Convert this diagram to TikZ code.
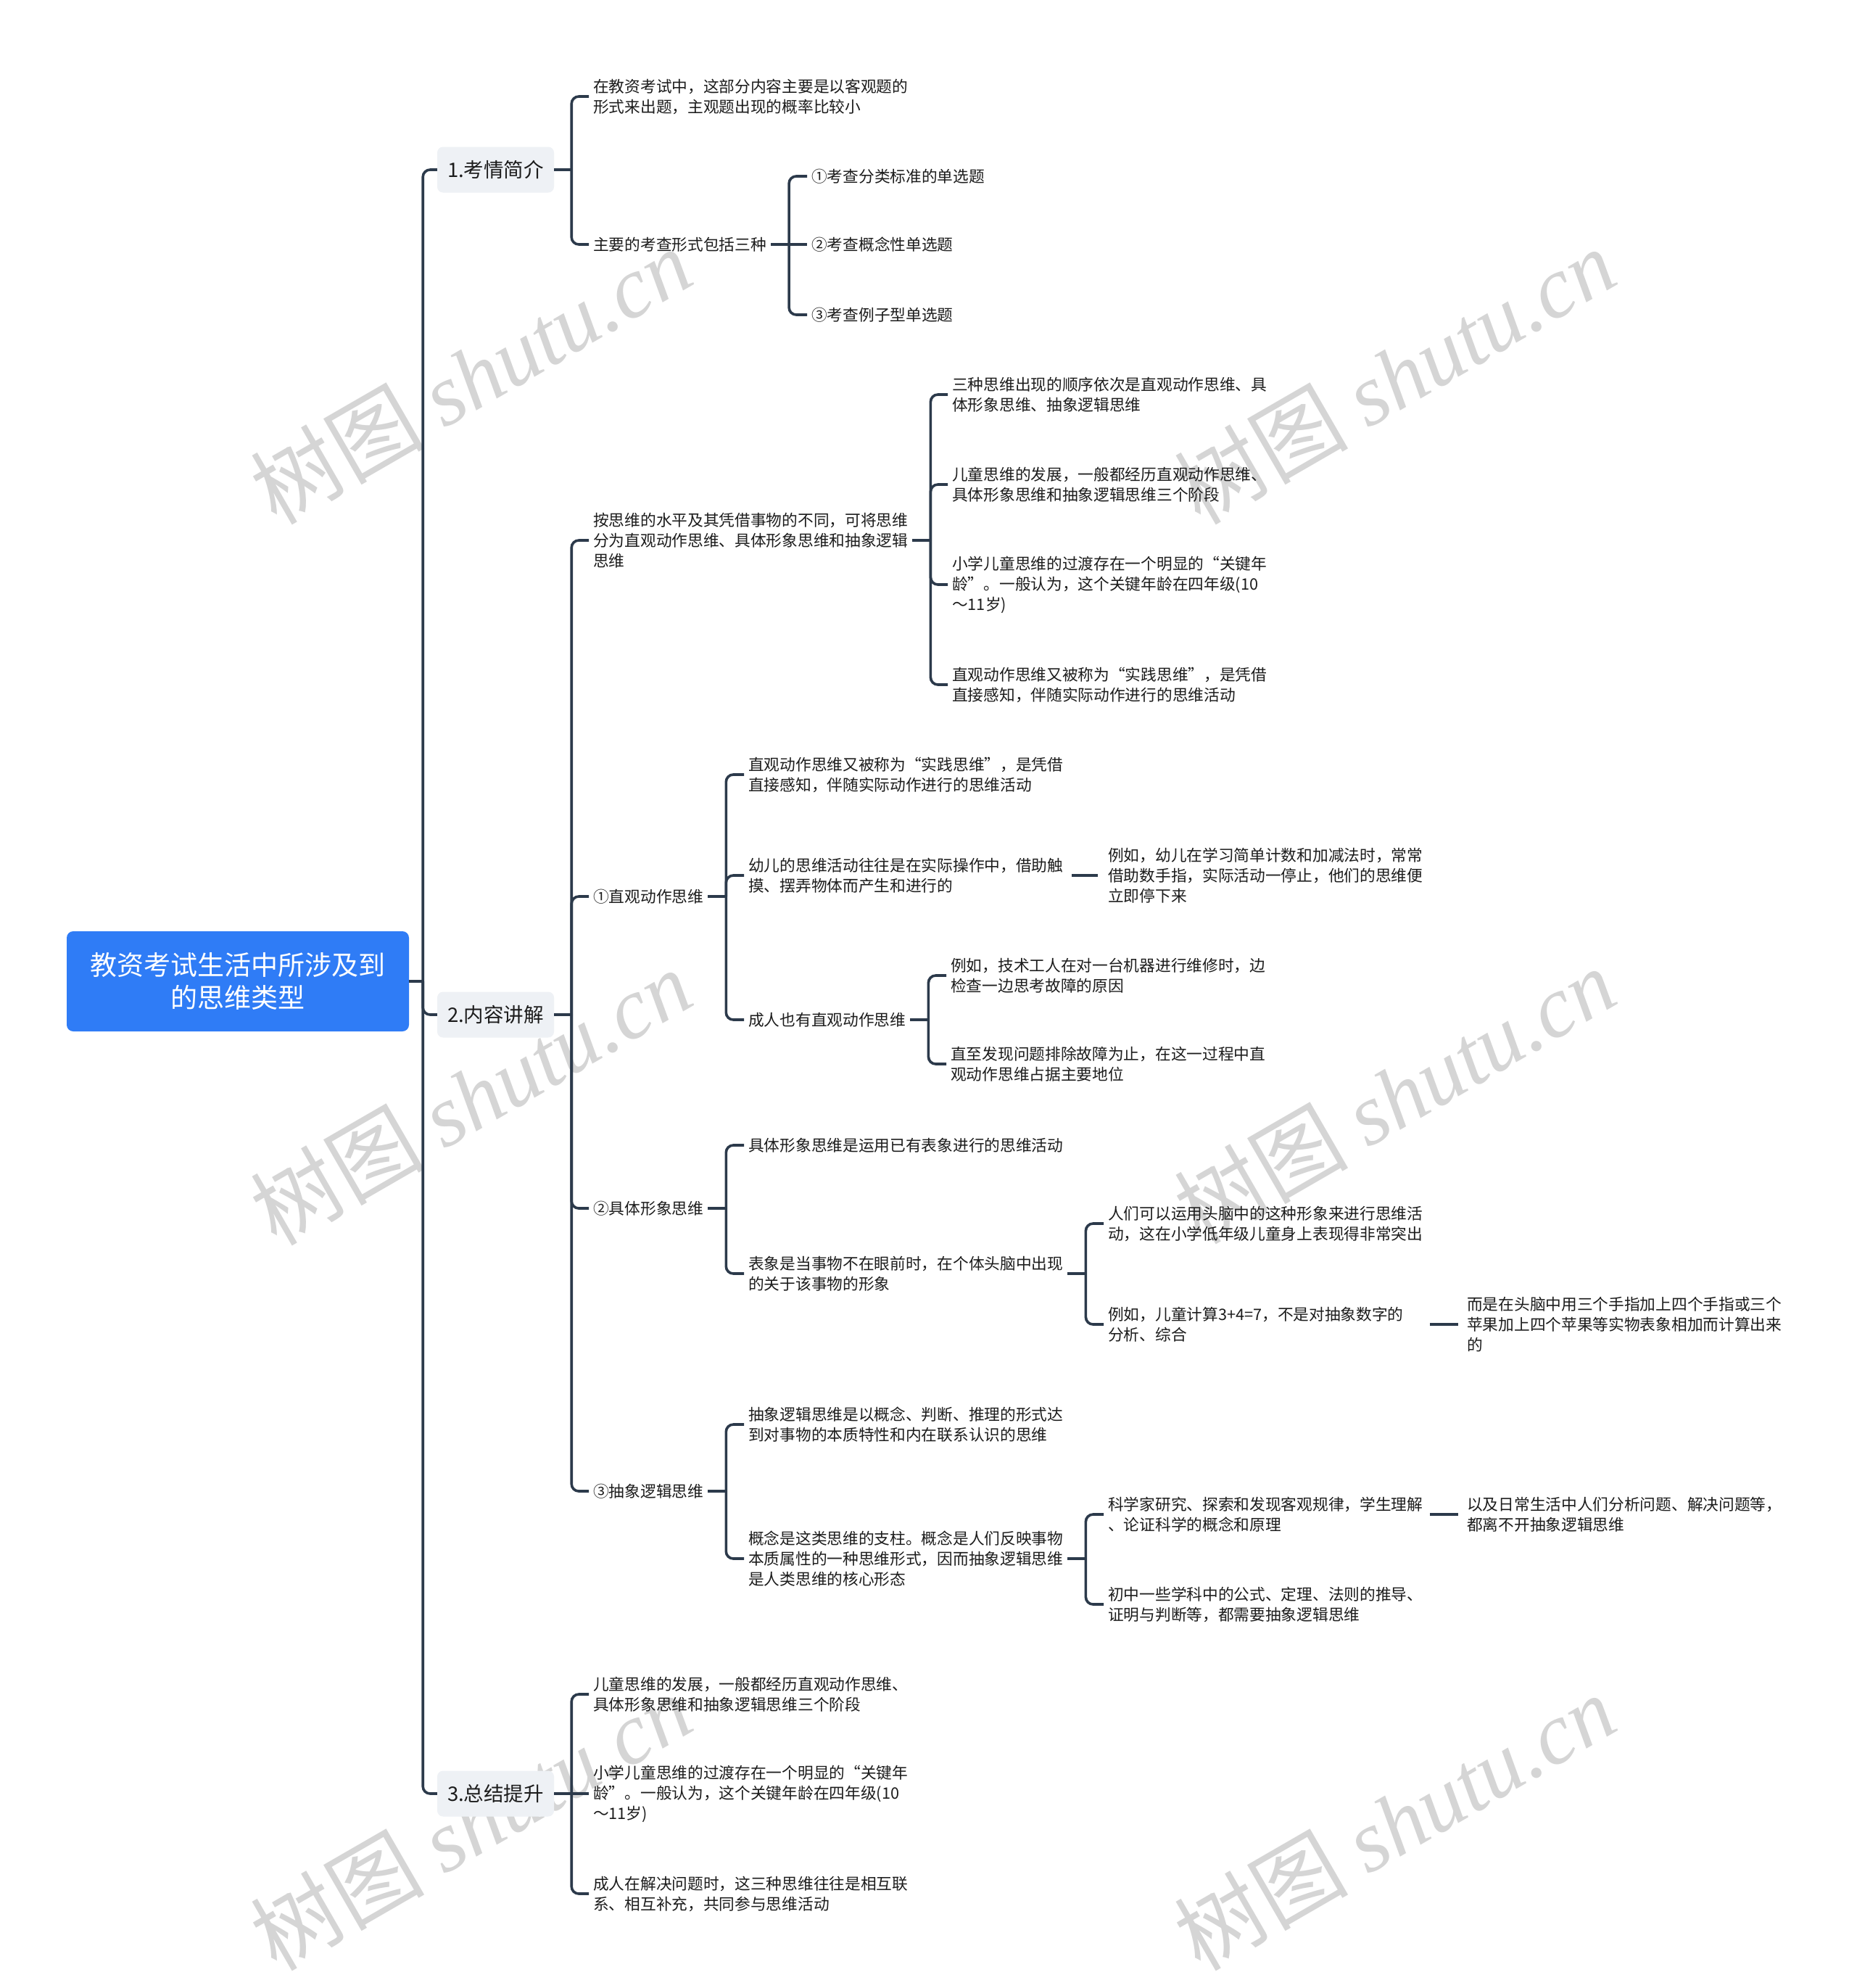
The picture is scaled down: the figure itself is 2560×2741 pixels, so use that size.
\documentclass[tikz,border=0pt]{standalone}
\usepackage{fontspec}
\setmainfont{Noto Sans CJK SC}
\newfontfamily\wmlat{Liberation Serif}
\usetikzlibrary{calc}
\definecolor{lineC}{HTML}{2C3A4B}
\definecolor{rootC}{HTML}{2F7CF6}
\definecolor{subC}{HTML}{EEF1F5}
\definecolor{txtC}{HTML}{1C1C1C}
\definecolor{wmC}{HTML}{D5D5D5}
\newcommand{\mmstub}[2]{\coordinate (#2) at ($(#1.east)+(25,0)$); \draw[conn] (#1.east) -- (#2);}
\newcommand{\mmdown}[2]{\draw[conn] (#1) |- (#2.west);}
\begin{document}
\begin{tikzpicture}[x=1pt,y=-1pt,
  conn/.style={draw=lineC, line width=3.6pt, rounded corners=10pt},
  rootnode/.style={fill=rootC, rounded corners=9pt, text=white, font=\fontsize{37}{45}\selectfont, align=center, minimum width=472pt, minimum height=138pt, inner sep=0pt},
  topic/.style={fill=subC, rounded corners=8pt, text=txtC, font=\fontsize{27.5}{33}\selectfont, minimum width=161pt, minimum height=63pt, inner sep=0pt},
  leaf/.style={anchor=west, text=txtC, font=\fontsize{21.7}{28}\selectfont, align=left, inner xsep=6pt, inner ysep=2pt},
  wide/.style={text width=434pt},
  wm/.style={rotate=30, text=wmC, font=\fontsize{120}{120}\selectfont, inner sep=0pt},
]
\fill[white] (0,0) rectangle (2560,2741);
\useasboundingbox (0,0) rectangle (2560,2741);

% watermarks
\node[wm] (wm1) at (649,518) {树图 {\wmlat\itshape shutu.cn}};
\node[wm] (wm2) at (1923,518) {树图 {\wmlat\itshape shutu.cn}};
\node[wm] (wm3) at (649,1512) {树图 {\wmlat\itshape shutu.cn}};
\node[wm] (wm4) at (1923,1510) {树图 {\wmlat\itshape shutu.cn}};
\node[wm] (wm5) at (649,2512) {树图 {\wmlat\itshape shutu.cn}};
\node[wm] (wm6) at (1923,2512) {树图 {\wmlat\itshape shutu.cn}};

% root and topics
\node[rootnode] (root) at (328,1353) {教资考试生活中所涉及到\\的思维类型};
\node[topic] (t1) at (683.5,234) {1.考情简介};
\node[topic] (t2) at (683.5,1399) {2.内容讲解};
\node[topic] (t3) at (683.5,2473) {3.总结提升};

% topic 1
\node[leaf] (intro) at (812,133) {在教资考试中，这部分内容主要是以客观题的\\形式来出题，主观题出现的概率比较小};
\node[leaf] (zy) at (812,337) {主要的考查形式包括三种};
\node[leaf] (k1) at (1113,243) {①考查分类标准的单选题};
\node[leaf] (k2) at (1113,337) {②考查概念性单选题};
\node[leaf] (k3) at (1113,434) {③考查例子型单选题};

% topic 2
\node[leaf] (A) at (812,745) {按思维的水平及其凭借事物的不同，可将思维\\分为直观动作思维、具体形象思维和抽象逻辑\\思维};
\node[leaf] (A1) at (1307,544) {三种思维出现的顺序依次是直观动作思维、具\\体形象思维、抽象逻辑思维};
\node[leaf] (A2) at (1307,668) {儿童思维的发展，一般都经历直观动作思维、\\具体形象思维和抽象逻辑思维三个阶段};
\node[leaf] (A3) at (1307,806) {小学儿童思维的过渡存在一个明显的“关键年\\龄”。一般认为，这个关键年龄在四年级(10\\～11岁)};
\node[leaf] (A4) at (1307,944) {直观动作思维又被称为“实践思维”，是凭借\\直接感知，伴随实际动作进行的思维活动};

\node[leaf] (B) at (812,1236) {①直观动作思维};
\node[leaf] (B1) at (1026,1068) {直观动作思维又被称为“实践思维”，是凭借\\直接感知，伴随实际动作进行的思维活动};
\node[leaf,wide] (B2) at (1026,1207) {幼儿的思维活动往往是在实际操作中，借助触\\摸、摆弄物体而产生和进行的};
\node[leaf] (B2a) at (1522,1207) {例如，幼儿在学习简单计数和加减法时，常常\\借助数手指，实际活动一停止，他们的思维便\\立即停下来};
\node[leaf] (B3) at (1026,1406) {成人也有直观动作思维};
\node[leaf] (B3a) at (1305,1345) {例如，技术工人在对一台机器进行维修时，边\\检查一边思考故障的原因};
\node[leaf] (B3b) at (1305,1467) {直至发现问题排除故障为止，在这一过程中直\\观动作思维占据主要地位};

\node[leaf] (C) at (812,1666) {②具体形象思维};
\node[leaf] (C1) at (1026,1579) {具体形象思维是运用已有表象进行的思维活动};
\node[leaf] (C2) at (1026,1756) {表象是当事物不在眼前时，在个体头脑中出现\\的关于该事物的形象};
\node[leaf] (C2a) at (1522,1687) {人们可以运用头脑中的这种形象来进行思维活\\动，这在小学低年级儿童身上表现得非常突出};
\node[leaf,wide] (C2b) at (1522,1826) {例如，儿童计算3+4=7，不是对抽象数字的\\分析、综合};
\node[leaf] (C2c) at (2017,1826) {而是在头脑中用三个手指加上四个手指或三个\\苹果加上四个苹果等实物表象相加而计算出来\\的};

\node[leaf] (D) at (812,2056) {③抽象逻辑思维};
\node[leaf] (D1) at (1026,1964) {抽象逻辑思维是以概念、判断、推理的形式达\\到对事物的本质特性和内在联系认识的思维};
\node[leaf] (D2) at (1026,2149) {概念是这类思维的支柱。概念是人们反映事物\\本质属性的一种思维形式，因而抽象逻辑思维\\是人类思维的核心形态};
\node[leaf,wide] (D2a) at (1522,2088) {科学家研究、探索和发现客观规律，学生理解\\、论证科学的概念和原理};
\node[leaf] (D2c) at (2017,2088) {以及日常生活中人们分析问题、解决问题等，\\都离不开抽象逻辑思维};
\node[leaf] (D2b) at (1522,2212) {初中一些学科中的公式、定理、法则的推导、\\证明与判断等，都需要抽象逻辑思维};

% topic 3
\node[leaf] (E1) at (812,2336) {儿童思维的发展，一般都经历直观动作思维、\\具体形象思维和抽象逻辑思维三个阶段};
\node[leaf] (E2) at (812,2473) {小学儿童思维的过渡存在一个明显的“关键年\\龄”。一般认为，这个关键年龄在四年级(10\\～11岁)};
\node[leaf] (E3) at (812,2611) {成人在解决问题时，这三种思维往往是相互联\\系、相互补充，共同参与思维活动};

% connectors
\coordinate (j0) at ($(root.east)+(19,0)$);
\draw[conn] (root.east) -- (j0);
\mmdown{j0}{t1} \mmdown{j0}{t2} \mmdown{j0}{t3}

\coordinate (j1) at ($(t1.east)+(24,0)$);
\draw[conn] (t1.east) -- (j1);
\mmdown{j1}{intro} \mmdown{j1}{zy}

\mmstub{zy}{jzy}
\mmdown{jzy}{k1} \draw[conn] (jzy) -- (k2.west); \mmdown{jzy}{k3}

\coordinate (j2) at ($(t2.east)+(24,0)$);
\draw[conn] (t2.east) -- (j2);
\mmdown{j2}{A} \mmdown{j2}{B} \mmdown{j2}{C} \mmdown{j2}{D}

\mmstub{A}{jA}
\mmdown{jA}{A1} \mmdown{jA}{A2} \mmdown{jA}{A3} \mmdown{jA}{A4}

\mmstub{B}{jB}
\mmdown{jB}{B1} \mmdown{jB}{B2} \mmdown{jB}{B3}
\draw[conn, shorten <=6pt, shorten >=8pt] (B2.east) -- (B2a.west);
\mmstub{B3}{jB3}
\mmdown{jB3}{B3a} \mmdown{jB3}{B3b}

\mmstub{C}{jC}
\mmdown{jC}{C1} \mmdown{jC}{C2}
\mmstub{C2}{jC2}
\mmdown{jC2}{C2a} \mmdown{jC2}{C2b}
\draw[conn, shorten <=4pt, shorten >=6pt] (C2b.east) -- (C2c.west);

\mmstub{D}{jD}
\mmdown{jD}{D1} \mmdown{jD}{D2}
\mmstub{D2}{jD2}
\mmdown{jD2}{D2a} \mmdown{jD2}{D2b}
\draw[conn, shorten <=4pt, shorten >=6pt] (D2a.east) -- (D2c.west);

\coordinate (j3) at ($(t3.east)+(24,0)$);
\draw[conn] (t3.east) -- (j3);
\mmdown{j3}{E1} \draw[conn] (j3) -- (E2.west); \mmdown{j3}{E3}
\end{tikzpicture}
\end{document}
